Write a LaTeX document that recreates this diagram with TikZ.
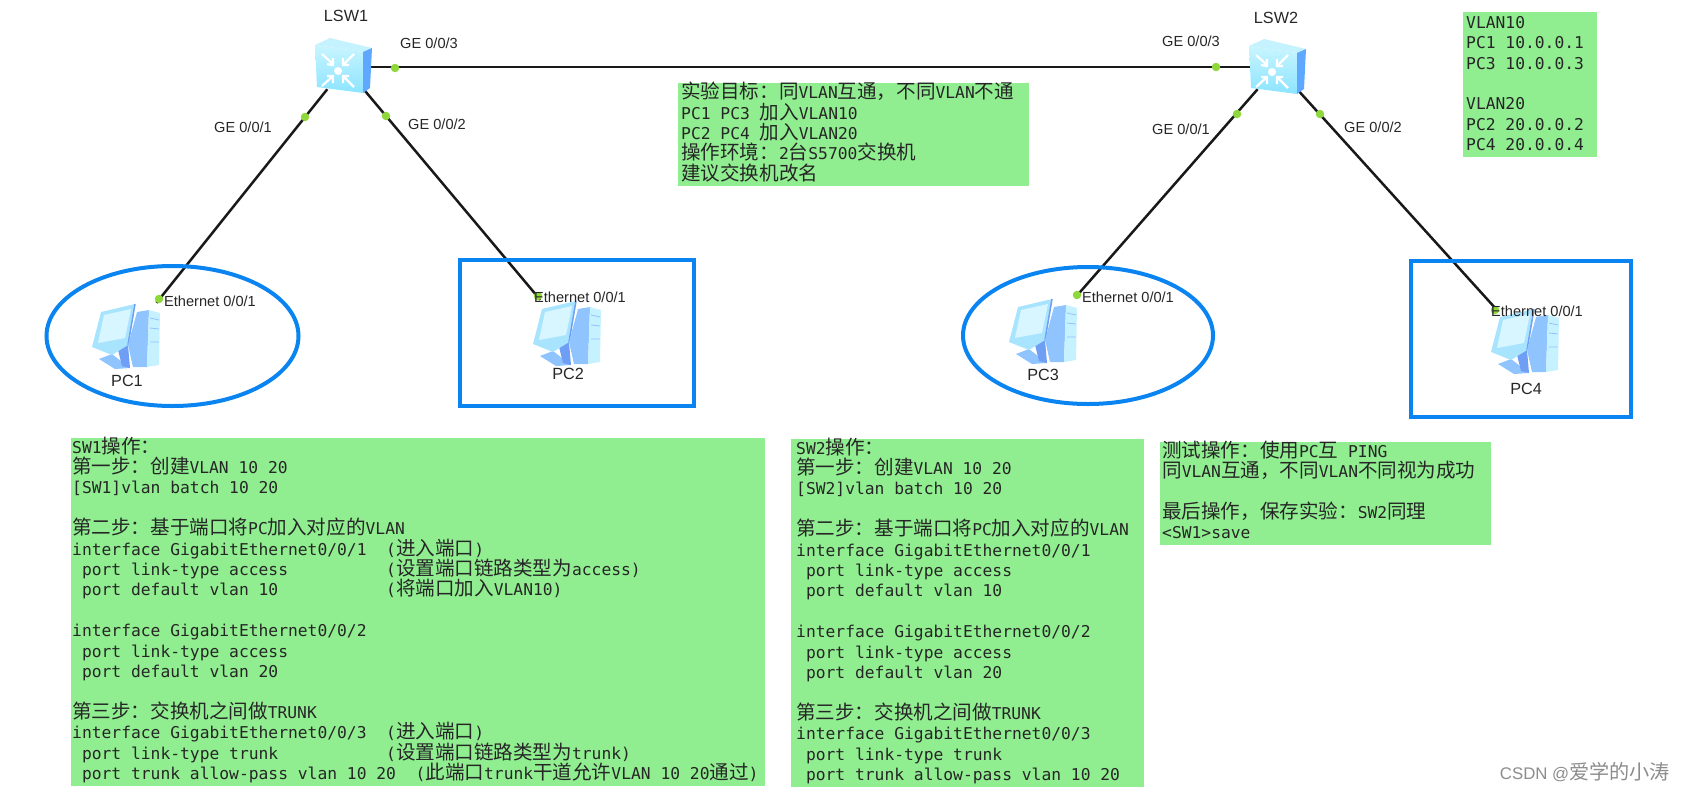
\documentclass[tikz,border=0pt]{standalone}
\usepackage{fontspec}
\setmainfont{Liberation Sans}
\setmonofont{DejaVu Sans Mono}
\newfontfamily\cjkfont[Scale=1.2]{Noto Sans CJK SC}
\usepackage{xcolor}
\usetikzlibrary{positioning,shapes.geometric}
\definecolor{boxgreen}{HTML}{90EE90}
\definecolor{markblue}{HTML}{0A84F0}
\definecolor{dotgreen}{HTML}{8FD83C}
\definecolor{icontop}{HTML}{C5F2FF}
\definecolor{iconlight}{HTML}{C8F5FF}
\definecolor{iconmid}{HTML}{8CE4FF}
\definecolor{iconside}{HTML}{5FA8FF}
\definecolor{pcframe}{HTML}{A9E4FF}
\definecolor{pcscreen}{HTML}{D8F6FF}
\definecolor{pcside}{HTML}{8FC4FF}
\definecolor{pcfront}{HTML}{C6F1FF}
\definecolor{pcdark}{HTML}{6F9EF5}
\newcommand{\zh}[1]{{\cjkfont #1}}
\newcommand{\ind}[1]{\hspace*{#1\dimexpr 0.602em\relax}}
\tikzset{
  notebg/.style={fill=boxgreen, anchor=north west, inner sep=0pt},
  notetext/.style={anchor=north west, align=flush left, inner sep=0pt,
    font=\ttfamily\fontsize{16.3}{20.4}\selectfont, text=black!85},
  devlabel/.style={font=\fontsize{14.6}{16}\selectfont, text=black!85},
  namelabel/.style={font=\fontsize{16.2}{18}\selectfont, text=black!85},
  portdot/.style={circle, fill=dotgreen, inner sep=0pt, minimum size=8.5pt},
  link/.style={line width=2.5pt, black!90},
  devbox/.style={inner sep=0pt, minimum width=68pt, minimum height=66pt},
  swbox/.style={inner sep=0pt, minimum width=44pt, minimum height=44pt},
  vlanmark/.style={draw=markblue, line width=4pt, inner sep=0pt},
  switchicon/.pic={
    \fill[icontop] (-28,-21) -- (-13,-28) -- (29,-18) -- (20,-14) -- cycle;
    \shade[top color=iconlight, bottom color=iconmid] (-28,-21) -- (20,-14) -- (20,27) -- (-26,21) -- cycle;
    \fill[iconside] (20,-14) -- (29,-18) -- (27,22) -- (20,27) -- cycle;
    \fill[white] (-5,5) circle (4);
    \draw[white, line width=2.2pt] (-21,-12) -- (-10,-2) (-16,-2) -- (-10,-1) -- (-10,-8);
    \draw[white, line width=2.2pt] (11,-12) -- (0,-1) (6,-1) -- (0,-1) -- (0,-8);
    \draw[white, line width=2.2pt] (-21,20) -- (-10,10) (-16,10) -- (-10,10) -- (-10,17);
    \draw[white, line width=2.2pt] (11,21) -- (0,10) (6,10) -- (0,10) -- (0,17);
  },
  pcicon/.pic={
    % stand
    \fill[pcside] (-27,23) -- (-14,18) -- (4,32) -- (-11,33) -- cycle;
    \fill[pcdark] (-8,14) -- (2,9) -- (4,32) -- (-4,30) -- cycle;
    % monitor
    \fill[pcframe] (-34,11) -- (-25,-24) -- (9,-32) -- (2,9) -- (-14,19) -- cycle;
    \fill[pcscreen] (-28,7) -- (-22,-21) -- (5,-27) -- (-1,2) -- cycle;
    \draw[pcdark, line width=1.5pt] (9,-32) -- (2,9);
    % tower
    \fill[pcside] (11,-24) -- (23,-26) -- (21,31) -- (7,31) -- (2,9) -- cycle;
    \fill[pcfront] (23,-26) -- (34,-23) -- (33,29) -- (21,31) -- cycle;
    \draw[pcside, line width=0.8pt] (24,-18) -- (33,-16) (24,-8) -- (33,-7) (24,6) -- (33,6);
  }
}

\begin{document}
\begin{tikzpicture}[x=1pt, y=-1pt]
  \useasboundingbox (0,0) rectangle (1686,790);

  % Device nodes
  \node[swbox] (lsw1) at (345,67) {};
  \node[swbox] (lsw2) at (1277,67) {};
  \node[devbox] (pc1) at (130,336) {};
  \node[devbox] (pc2) at (568,333) {};
  \node[devbox] (pc3) at (1046,331) {};
  \node[devbox] (pc4) at (1525,341) {};

  % Links
  \draw[link] (lsw1) -- (lsw2);
  \draw[link] (lsw1) -- (pc1);
  \draw[link] (lsw1) -- (pc2);
  \draw[link] (lsw2) -- (pc3);
  \draw[link] (lsw2) -- (pc4);

  % VLAN marks
  \node[vlanmark, ellipse, minimum width=252pt, minimum height=140pt] (vlan1) at (172.5,336) {};
  \node[vlanmark, ellipse, minimum width=250pt, minimum height=137pt] (vlan3) at (1088,335.5) {};
  \node[vlanmark, minimum width=234pt, minimum height=146pt] (vlan2) at (577,333) {};
  \node[vlanmark, minimum width=220pt, minimum height=156pt] (vlan4) at (1521,339) {};

  % Icons
  \pic at (343,66) {switchicon};
  \pic at (1277,67) {switchicon};
  \pic at (126,336) {pcicon};
  \pic at (567,333) {pcicon};
  \pic at (1043,331) {pcicon};
  \pic at (1525,341) {pcicon};

  % Port dots
  \node[portdot] (d13) at (395,68) {};
  \node[portdot] (d11) at (305,117) {};
  \node[portdot] (d12) at (386,116) {};
  \node[portdot] (d23) at (1216,67) {};
  \node[portdot] (d21) at (1237,114) {};
  \node[portdot] (d22) at (1320,114) {};
  \node[portdot] (dp1) at (159,299) {};
  \node[portdot] (dp2) at (538,296) {};
  \node[portdot] (dp3) at (1077,295) {};
  \node[portdot] (dp4) at (1495,310) {};

  % Device and port labels
  \node[namelabel] (l1) at (346,16) {LSW1};
  \node[namelabel] (l2) at (1276,18) {LSW2};
  \node[devlabel] at (429,43) {GE 0/0/3};
  \node[devlabel] at (243,127) {GE 0/0/1};
  \node[devlabel] at (437,124) {GE 0/0/2};
  \node[devlabel] at (1191,41) {GE 0/0/3};
  \node[devlabel] at (1181,129) {GE 0/0/1};
  \node[devlabel] at (1373,127) {GE 0/0/2};
  \node[devlabel] at (210,301) {Ethernet 0/0/1};
  \node[devlabel] at (580,297) {Ethernet 0/0/1};
  \node[devlabel] at (1128,297) {Ethernet 0/0/1};
  \node[devlabel] at (1537,311) {Ethernet 0/0/1};
  \node[namelabel] at (127,381) {PC1};
  \node[namelabel] at (568,374) {PC2};
  \node[namelabel] at (1043,375) {PC3};
  \node[namelabel] at (1526,389) {PC4};

  % Goal note
  \node[notebg, minimum width=351pt, minimum height=103pt] (goalbg) at (678,83) {};
  \node[notetext, text width=345pt] (goal) at (681,82) {%
    \zh{实验目标：同}VLAN\zh{互通，不同}VLAN\zh{不通}\\
    PC1 PC3 \zh{加入}VLAN10\\
    PC2 PC4 \zh{加入}VLAN20\\
    \zh{操作环境：}2\zh{台}S5700\zh{交换机}\\
    \zh{建议交换机改名}};

  % Address note
  \node[notebg, minimum width=134pt, minimum height=145pt] (addrbg) at (1463,12) {};
  \node[notetext, text width=128pt] (addr) at (1466,16) {%
    VLAN10\\
    PC1 10.0.0.1\\
    PC3 10.0.0.3\\
    ~\\
    VLAN20\\
    PC2 20.0.0.2\\
    PC4 20.0.0.4};

  % SW1 steps
  \node[notebg, minimum width=694pt, minimum height=348pt] (sw1bg) at (71,438) {};
  \node[notetext, text width=690pt] (sw1) at (72,436.5) {%
    SW1\zh{操作：}\\
    \zh{第一步：创建}VLAN 10 20\\
    {[}SW1{]}vlan batch 10 20\\
    ~\\
    \zh{第二步：基于端口将}PC\zh{加入对应的}VLAN\\
    interface GigabitEthernet0/0/1\ind{2}(\zh{进入端口})\\
    \ind{1}port link-type access\ind{10}(\zh{设置端口链路类型为}access)\\
    \ind{1}port default vlan 10\ind{11}(\zh{将端口加入}VLAN10)\\
    ~\\
    interface GigabitEthernet0/0/2\\
    \ind{1}port link-type access\\
    \ind{1}port default vlan 20\\
    ~\\
    \zh{第三步：交换机之间做}TRUNK\\
    interface GigabitEthernet0/0/3\ind{2}(\zh{进入端口})\\
    \ind{1}port link-type trunk\ind{11}(\zh{设置端口链路类型为}trunk)\\
    \ind{1}port trunk allow-pass vlan 10 20\ind{2}(\zh{此端口}trunk\zh{干道允许}VLAN 10 20\zh{通过})};

  % SW2 steps
  \node[notebg, minimum width=353pt, minimum height=348pt] (sw2bg) at (791,439) {};
  \node[notetext, text width=345pt] (sw2) at (796,437.5) {%
    SW2\zh{操作：}\\
    \zh{第一步：创建}VLAN 10 20\\
    {[}SW2{]}vlan batch 10 20\\
    ~\\
    \zh{第二步：基于端口将}PC\zh{加入对应的}VLAN\\
    interface GigabitEthernet0/0/1\\
    \ind{1}port link-type access\\
    \ind{1}port default vlan 10\\
    ~\\
    interface GigabitEthernet0/0/2\\
    \ind{1}port link-type access\\
    \ind{1}port default vlan 20\\
    ~\\
    \zh{第三步：交换机之间做}TRUNK\\
    interface GigabitEthernet0/0/3\\
    \ind{1}port link-type trunk\\
    \ind{1}port trunk allow-pass vlan 10 20};

  % Test note
  \node[notebg, minimum width=331pt, minimum height=103pt] (testbg) at (1160,442) {};
  \node[notetext, text width=327pt] (test) at (1162,440.5) {%
    \zh{测试操作：使用}PC\zh{互} PING\\
    \zh{同}VLAN\zh{互通，不同}VLAN\zh{不同视为成功}\\
    ~\\
    \zh{最后操作，保存实验：}SW2\zh{同理}\\
    <SW1>save};

  % Watermark
  \node[font=\fontsize{16.8}{18}\selectfont, text=black!45] (wmark) at (1585,772) {CSDN @\zh{爱学的小涛}};
\end{tikzpicture}
\end{document}
